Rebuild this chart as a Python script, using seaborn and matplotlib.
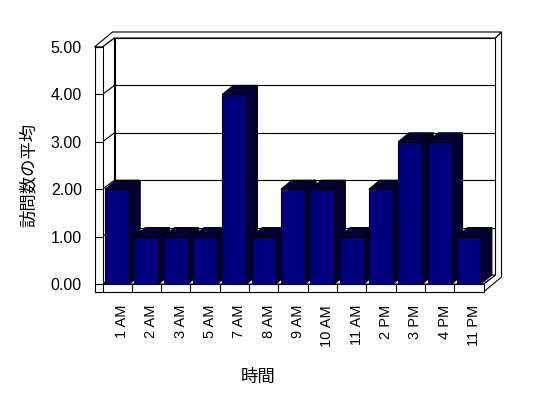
import matplotlib
matplotlib.use('Agg')
import matplotlib.pyplot as plt
import seaborn as sns
import pandas as pd
from matplotlib.patches import Polygon
from matplotlib.transforms import IdentityTransform, ScaledTranslation

# ---- data ----
hours = ['1 AM', '2 AM', '3 AM', '5 AM', '7 AM', '8 AM', '9 AM', '10 AM',
         '11 AM', '2 PM', '3 PM', '4 PM', '11 PM']
visits = [2, 1, 1, 1, 4, 1, 2, 2, 1, 2, 3, 3, 1]
yticks = [0, 1, 2, 3, 4, 5]
ytick_labels = ['0.00', '1.00', '2.00', '3.00', '4.00', '5.00']
xlabel = '時間'
ylabel = '訪問数の平均'

sns.set_theme(style='white')
plt.rcParams['font.family'] = ['Liberation Sans', 'Noto Sans CJK JP']

W, H = 548, 398
fig = plt.figure(figsize=(W / 100, H / 100), dpi=100)
fig.patch.set_facecolor('white')
ax = fig.add_axes([102.5 / W, (H - 284) / H, 381 / W, 237 / H])

df = pd.DataFrame({'hour': hours, 'visits': visits})
sns.barplot(data=df, x='hour', y='visits', color='#000080', saturation=1,
            width=0.82, edgecolor='black', linewidth=0.8, ax=ax, errorbar=None)
ax.set_xlim(-0.5, len(hours) - 0.5)
ax.set_ylim(0, 5)
ax.set_autoscale_on(False)
for s in ax.spines.values():
    s.set_visible(False)
ax.set_facecolor('none')
ax.set_xlabel('')
ax.set_ylabel('')
ax.grid(False)

ax.set_yticks(yticks, ytick_labels)
ax.set_xticks(range(len(hours)), hours, rotation=90)
ax.tick_params(axis='y', length=0, pad=14.8, labelsize=11.5, colors='black')
ax.tick_params(axis='x', length=0, pad=15.1, labelsize=10.5, colors='black')
for lab in ax.get_xticklabels():
    lab.set_transform(lab.get_transform() + ScaledTranslation(0.05, 0, fig.dpi_scale_trans))

fig.canvas.draw()


def px(xd, yd, dx=0, dy=0):
    X, Y = ax.transData.transform((xd, yd))
    return (X + dx, Y + dy)


IT = IdentityTransform()
LW = 0.8


def poly(pts, z, fc='white'):
    ax.add_patch(Polygon(pts, closed=True, facecolor=fc, edgecolor='black',
                         linewidth=LW, transform=IT, clip_on=False, zorder=z))


def line(p0, p1, z):
    ax.plot([p0[0], p1[0]], [p0[1], p1[1]], color='black', lw=LW,
            transform=IT, clip_on=False, zorder=z)


xL, xR = -0.5, len(hours) - 0.5
ymax = yticks[-1]
D = (12, 9)
D2 = (18, 15)
T = 8

# back wall inner face
poly([px(xL, 0, *D), px(xR, 0, *D), px(xR, ymax, *D), px(xL, ymax, *D)], 0.5)
for v in yticks[1:-1]:
    line(px(xL, v, *D), px(xR, v, *D), 0.6)
# top strip (left wall + back wall)
poly([px(xL, ymax, -T, 0), px(xL, ymax), px(xL, ymax, *D), px(xR, ymax, *D),
      px(xR, ymax, *D2), px(xL, ymax, -T + D2[0], D2[1])], 0.7)
# right side strip
poly([px(xR, 0), px(xR, 0, 0, -T), px(xR, 0, D2[0], D2[1] - T),
      px(xR, ymax, *D2), px(xR, ymax, *D), px(xR, 0, *D)], 0.7)
# floor top
poly([px(xL, 0), px(xR, 0), px(xR, 0, *D), px(xL, 0, *D)], 0.8)
# floor front
poly([px(xL, 0, -T, 0), px(xR, 0), px(xR, 0, 0, -T), px(xL, 0, -T, -T)], 0.9)
for k in range(len(hours) - 1):
    line(px(k + 0.5, 0), px(k + 0.5, 0, 0, -T), 0.95)
# left wall inner face
poly([px(xL, 0), px(xL, ymax), px(xL, ymax, *D), px(xL, 0, *D)], 0.8)
for v in yticks[1:-1]:
    line(px(xL, v), px(xL, v, *D), 0.85)
# left wall front face
poly([px(xL, 0, -T, -T), px(xL, 0, 0, -T), px(xL, ymax), px(xL, ymax, -T, 0)], 1.0)
for v in yticks:
    line(px(xL, v, -T, 0), px(xL, v), 1.05)

# 3D bar faces
d = (11, 9)
bars = list(ax.patches)[:len(hours)]
for i, p in enumerate(bars):
    x0 = p.get_x()
    x1 = x0 + p.get_width()
    h = p.get_height()
    z = 3 + 0.01 * i
    poly([px(x1, 0), px(x1, h), px(x1, h, *d), px(x1, 0, *d)], z, fc='#000036')
    poly([px(x0, h), px(x1, h), px(x1, h, *d), px(x0, h, *d)], z, fc='#000036')
    p.set_zorder(z + 0.005)

fig.text(28 / W, 1 - 175 / H, ylabel, rotation=90, ha='center', va='center',
         fontsize=12.5, color='black')
fig.text(258 / W, 1 - 377 / H, xlabel, ha='center', va='center',
         fontsize=12.5, color='black')

fig.savefig('out.png', dpi=100)
